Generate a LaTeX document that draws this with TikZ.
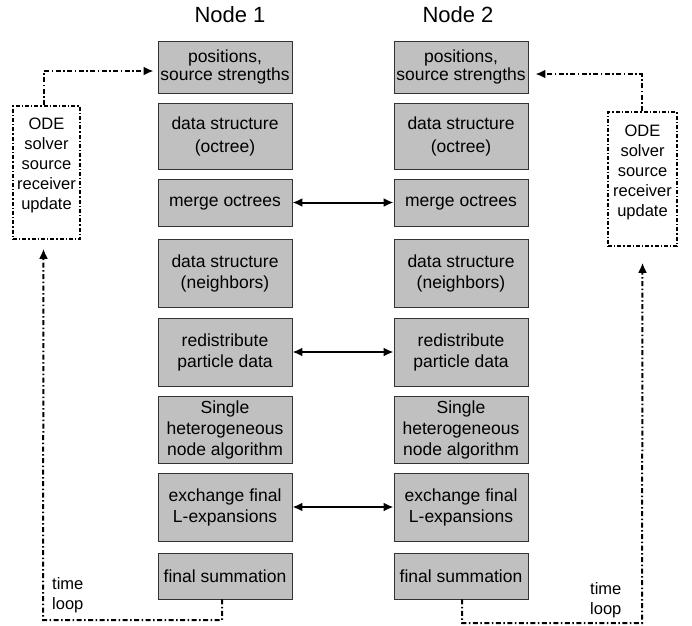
\documentclass[tikz,border=0pt]{standalone}
\usepackage{fontspec}
\setmainfont{Liberation Sans}
\usetikzlibrary{arrows.meta,calc}
\definecolor{boxgray}{HTML}{C0C0C0}
\definecolor{boxedge}{HTML}{333333}

\begin{document}
\begin{tikzpicture}[x=1pt,y=-1pt,
  stage/.style={draw=boxedge, line width=0.9pt, fill=boxgray, minimum width=134pt,
    align=center, inner sep=0pt, font=\fontsize{17.5}{21}\selectfont},
  solverbox/.style={draw=black, line width=1.5pt, dash pattern=on 4pt off 2pt on 1.3pt off 2pt,
    align=center, inner sep=0pt, font=\fontsize{16.5}{20}\selectfont},
  header/.style={font=\fontsize{22}{24}\selectfont},
  loopline/.style={draw=black, line width=2pt, dash pattern=on 5pt off 2.5pt on 1.5pt off 2.5pt,
    -{Latex[length=10pt,width=9pt]}},
  xchg/.style={draw=black, line width=2pt, {Latex[length=10pt,width=9pt]}-{Latex[length=10pt,width=9pt]}},
  note/.style={align=left, inner sep=0pt, font=\fontsize{16.5}{20}\selectfont}
]
\useasboundingbox (0,0) rectangle (692,625);

% column headers
\node[header] (h1) at (230,15) {Node 1};
\node[header] (h2) at (458,15) {Node 2};

% processing stages, node 1
\node[stage, minimum height=52pt] (p1) at (225,67)  {positions,\\[-3pt]source strengths};
\node[stage, minimum height=66pt] (d1) at (225,136) {data structure\\[2pt](octree)};
\node[stage, minimum height=47pt] (m1) at (225,202.5) {merge octrees};
\node[stage, minimum height=68pt] (n1) at (225,273) {data structure\\(neighbors)};
\node[stage, minimum height=68pt] (r1) at (225,352) {redistribute\\particle data};
\node[stage, minimum height=67pt] (s1) at (225,430) {Single\\heterogeneous\\node algorithm};
\node[stage, minimum height=68pt] (e1) at (225,507) {exchange final\\L-expansions};
\node[stage, minimum height=46pt] (f1) at (225,576) {final summation};

% processing stages, node 2
\node[stage, minimum height=52pt] (p2) at (461,67)  {positions,\\[-3pt]source strengths};
\node[stage, minimum height=66pt] (d2) at (461,136) {data structure\\[2pt](octree)};
\node[stage, minimum height=47pt] (m2) at (461,202.5) {merge octrees};
\node[stage, minimum height=68pt] (n2) at (461,273) {data structure\\(neighbors)};
\node[stage, minimum height=68pt] (r2) at (461,352) {redistribute\\particle data};
\node[stage, minimum height=67pt] (s2) at (461,430) {Single\\heterogeneous\\node algorithm};
\node[stage, minimum height=68pt] (e2) at (461,507) {exchange final\\L-expansions};
\node[stage, minimum height=46pt] (f2) at (461,576) {final summation};

% time integration boxes
\node[solverbox, minimum width=67pt, minimum height=133pt] (odeL) at (46.5,172.5)
  {ODE\\solver\\source\\receiver\\update\\[-3pt]};
\node[solverbox, minimum width=69pt, minimum height=134pt] (odeR) at (642.5,179)
  {ODE\\solver\\source\\receiver\\update\\[-3pt]};

% communication between the two nodes
\draw[xchg] (m1.east) -- (m2.west);
\draw[xchg] (r1.east) -- (r2.west);
\draw[xchg] (e1.east) -- (e2.west);

% time loop, node 1
\coordinate (inL) at ($(p1.west)+(-4,4)$);
\coordinate (upL) at ($(odeL.south)+(-3,9)$);
\coordinate (baseL) at (43,620);
\draw[loopline] ([xshift=-2.5pt]odeL.north) |- (inL);
\draw[loopline] ([xshift=-3pt]f1.south) |- (baseL) -- (upL);
\node[note, anchor=west] (tL) at (52,595) {time\\loop};

% time loop, node 2
\coordinate (inR) at ($(p2.east)+(7,7)$);
\coordinate (upR) at ($(odeR.south)+(0,16)$);
\coordinate (baseR) at (642,623);
\draw[loopline] ([xshift=-1pt]odeR.north) |- (inR);
\draw[loopline] ([xshift=1pt]f2.south) |- (baseR) -- (upR);
\node[note, anchor=west] (tR) at (590,600) {time\\loop};
\end{tikzpicture}
\end{document}
